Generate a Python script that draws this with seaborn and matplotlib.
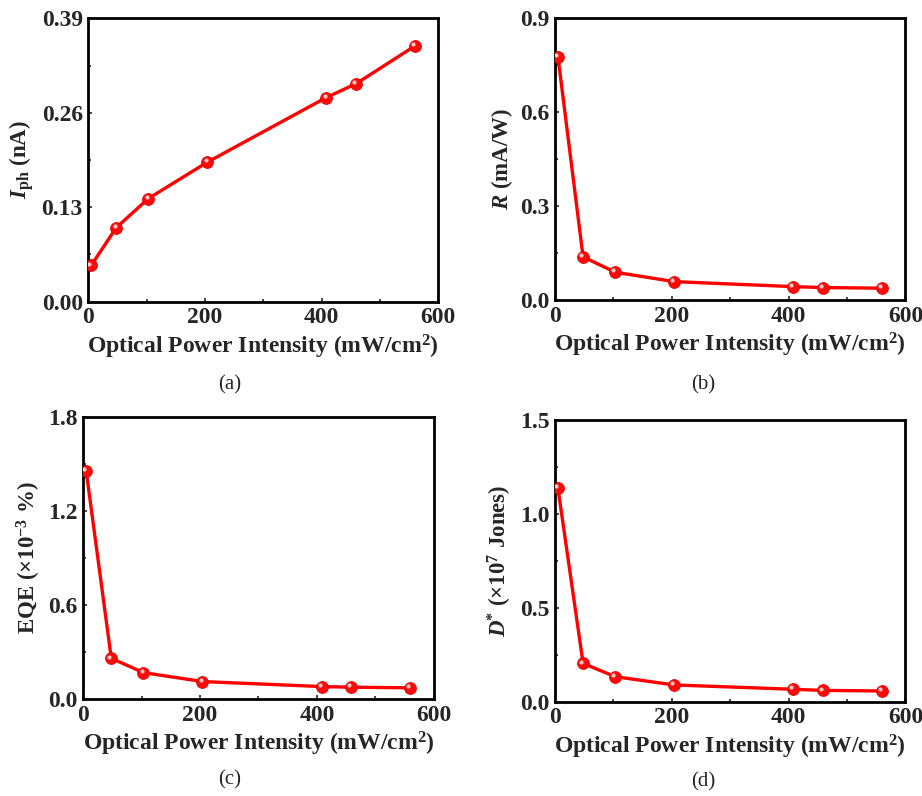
import numpy as np
import pandas as pd
import matplotlib
matplotlib.use("Agg")
import matplotlib.pyplot as plt
import matplotlib.transforms as mtrans
import seaborn as sns
from matplotlib.ticker import MultipleLocator, AutoMinorLocator, FormatStrFormatter

# data
power = [5, 48, 103, 204, 408, 459, 560]          # mW/cm^2
iph = [0.050, 0.102, 0.142, 0.192, 0.281, 0.300, 0.352]   # nA
resp = [0.777, 0.138, 0.089, 0.059, 0.043, 0.040, 0.038]  # mA/W
eqe = [1.454, 0.261, 0.170, 0.113, 0.081, 0.077, 0.073]   # x1e-3 %
detect = [1.136, 0.204, 0.133, 0.089, 0.066, 0.060, 0.057]  # x1e7 Jones

sns.set_theme(style="ticks")
plt.rcParams["font.family"] = ["Liberation Serif", "DejaVu Serif"]
plt.rcParams["font.weight"] = "bold"
plt.rcParams["mathtext.fontset"] = "custom"
plt.rcParams["mathtext.rm"] = "Liberation Serif:bold"
plt.rcParams["mathtext.it"] = "Liberation Serif:italic:bold"
plt.rcParams["mathtext.bf"] = "Liberation Serif:bold"
plt.rcParams["mathtext.bfit"] = "Liberation Serif:italic:bold"

fig = plt.figure(figsize=(9.22, 7.96), dpi=100)

panels = [
    # rect, yvals, ymax, ystep, tick format, ylabel, caption, caption xy (px)
    ([0.0958, 0.621, 0.3796, 0.356], iph, 0.39, 0.13, "%.2f",
     r"$\mathbfit{I}_{\mathbf{ph}}$ (nA)", "(a)", (230, 385)),
    ([0.602, 0.623, 0.380, 0.354], resp, 0.9, 0.3, "%.1f",
     r"$\mathbfit{R}$ (mA/W)", "(b)", (703, 385)),
    ([0.0903, 0.1215, 0.380, 0.355], eqe, 1.8, 0.6, "%.1f",
     r"EQE (×10$^{\mathbf{-3}}$ %)", "(c)", (230, 780)),
    ([0.602, 0.1185, 0.380, 0.354], detect, 1.5, 0.5, "%.1f",
     r"$\mathbfit{D}^{\mathbf{*}}$ (×10$^{\mathbf{7}}$ Jones)", "(d)", (703, 782)),
]

for rect, yv, ymax, ystep, fmt, ylab, cap, cxy in panels:
    ax = fig.add_axes(rect)
    df = pd.DataFrame({"x": power, "y": yv})
    sns.lineplot(data=df, x="x", y="y", ax=ax, color="#ff0000", lw=2.4,
                 marker="o", markersize=8.5, markerfacecolor="#ff0a0a",
                 markeredgecolor="#e00000", markeredgewidth=0.6, zorder=3)
    # glossy highlight, nudged up-left of each ball
    shine = ax.transData + mtrans.ScaledTranslation(-1.3 / 72, 1.3 / 72, fig.dpi_scale_trans)
    ax.plot(df["x"], df["y"], ls="none", marker="o", markersize=3.0,
            color="#ffc8c8", markeredgewidth=0, zorder=4, transform=shine)
    ax.set_xlim(0, 600)
    ax.set_ylim(0, ymax)
    ax.xaxis.set_major_locator(MultipleLocator(200))
    ax.xaxis.set_minor_locator(AutoMinorLocator(2))
    ax.yaxis.set_major_locator(MultipleLocator(ystep))
    ax.yaxis.set_minor_locator(AutoMinorLocator(2))
    ax.yaxis.set_major_formatter(FormatStrFormatter(fmt))
    ax.tick_params(which="both", direction="in", top=False, right=False,
                   labelsize=17, width=1.2)
    ax.tick_params(which="major", length=3, pad=4)
    ax.tick_params(which="minor", length=2)
    for lab in ax.get_xticklabels() + ax.get_yticklabels():
        lab.set_fontweight("bold")
    for sp in ax.spines.values():
        sp.set_linewidth(2.0)
        sp.set_color("black")
    ax.set_xlabel(r"Optical Power Intensity (mW/cm$^{\mathbf{2}}$)",
                  fontsize=17, fontweight="bold", labelpad=3)
    ax.set_ylabel(ylab, fontsize=16.5, fontweight="bold", labelpad=4)
    fig.text(cxy[0] / 922, 1 - cxy[1] / 796, cap, ha="center", va="center",
             fontsize=15, fontweight="normal")

fig.savefig("out.png", dpi=100)
